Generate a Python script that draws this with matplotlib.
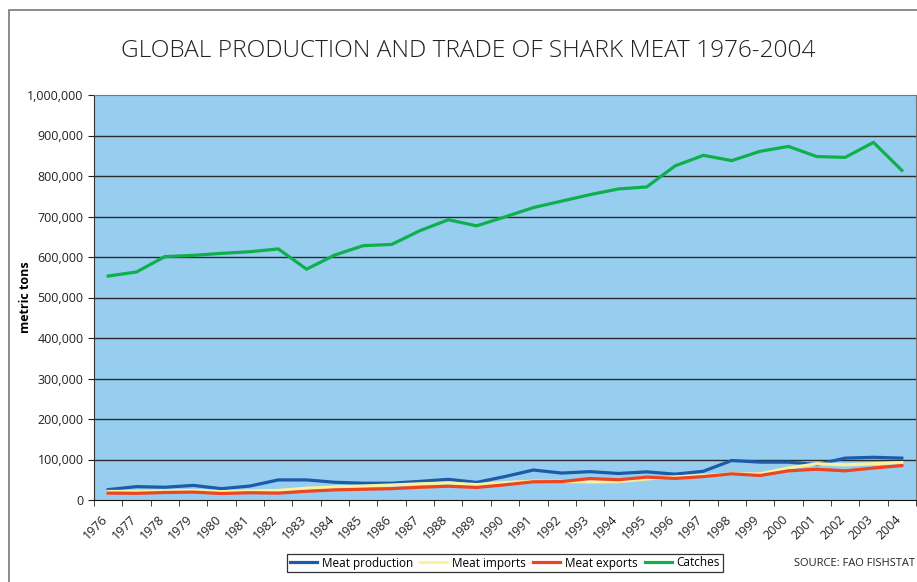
import matplotlib
matplotlib.use("Agg")
import matplotlib.pyplot as plt
import matplotlib.patches as patches
from matplotlib.ticker import FuncFormatter, FixedLocator
from matplotlib.transforms import ScaledTranslation

# values (metric tons)
years = list(range(1976, 2005))
meat_production = [25600, 33000, 31500, 36000, 28000, 34500, 49600, 49600, 43800, 41400,
                   41500, 46000, 51000, 43500, 58000, 74000, 66500, 70000, 65500, 69500,
                   63800, 71000, 97500, 93500, 93500, 87600, 103400, 105500, 103400]
meat_imports = [21000, 21500, 22300, 23500, 20500, 22500, 23500, 29000, 32000, 34500,
                37000, 40000, 42000, 38000, 43000, 46500, 46000, 44500, 45500, 52000,
                57000, 60500, 64500, 64500, 79000, 89500, 87000, 89500, 92500]
meat_exports = [17000, 16500, 18500, 19500, 16000, 18000, 17000, 21500, 25000, 26500,
                28000, 31500, 34000, 31000, 37500, 45000, 45500, 53000, 50000, 56500,
                53300, 57800, 64500, 60500, 72000, 76000, 72000, 79000, 85000]
catches = [553000, 563000, 601000, 604000, 609000, 613000, 620000, 570000, 605000, 628000,
           631000, 665000, 692000, 677000, 699000, 722000, 738000, 754000, 768000, 773000,
           825000, 851000, 838000, 861000, 873000, 848000, 846000, 883000, 814000]

series = [("Meat production", meat_production, "#1A5BAA"),
          ("Meat imports", meat_imports, "#FAF29C"),
          ("Meat exports", meat_exports, "#EE4422"),
          ("Catches", catches, "#0DB14B")]

plt.rcParams['font.family'] = ['Open Sans', 'DejaVu Sans']

fig = plt.figure(figsize=(9.17, 5.82), dpi=100)
ax = fig.add_axes([94 / 917, 1 - 500 / 582, 822 / 917, 405 / 582])
ax.set_facecolor("#97CDEF")

x = list(range(len(years)))
for name, vals, col in series:
    ax.plot(x, vals, color=col, lw=2.3, label=name, solid_joinstyle='miter')

ax.set_xlim(-0.5, len(years) - 0.5)
ax.set_ylim(0, 1000000)
ax.set_yticks(range(0, 1000001, 100000))
ax.yaxis.set_major_formatter(FuncFormatter(lambda v, p: "{:,.0f}".format(v)))
for yv in range(100000, 1000000, 100000):
    ax.axhline(yv, color="#2a2a2a", lw=1.0, zorder=1)

ax.set_xticks(x)
ax.set_xticklabels([str(y) for y in years], rotation=45, ha='right', va='top',
                   rotation_mode='anchor')
ax.xaxis.set_minor_locator(FixedLocator([i - 0.5 for i in range(len(years) + 1)]))
ax.tick_params(axis='x', which='major', length=0, pad=9, labelsize=9, colors='#222222')
ax.tick_params(axis='x', which='minor', length=4, color='#222222')
ax.tick_params(axis='y', length=4, labelsize=9, colors='#222222')
off = ScaledTranslation(-7 / 100, 0, fig.dpi_scale_trans)
for lab in ax.get_xticklabels():
    lab.set_transform(lab.get_transform() + off)

for side in ['top', 'right']:
    ax.spines[side].set_color('#777777')
ax.spines['left'].set_color('#333333')
ax.spines['bottom'].set_color('#111111')

ax.set_ylabel("metric tons", fontsize=9, fontweight='bold')
ax.yaxis.set_label_coords((32 - 94) / 822, 0.5)

fig.text(0.511, 1 - 51 / 582, "GLOBAL PRODUCTION AND TRADE OF SHARK MEAT 1976-2004",
         ha='center', va='center', fontsize=17.6, fontweight='light', color='#222222')

leg = fig.legend(loc='center', bbox_to_anchor=(505 / 917, 1 - 563 / 582), ncol=4,
                 frameon=True, fancybox=False, fontsize=8.5, handlelength=2.3,
                 handletextpad=0.4, columnspacing=0.6, borderpad=0.25)
leg.get_frame().set_edgecolor('black')
leg.get_frame().set_linewidth(0.9)

fig.text(915 / 917, 1 - 563 / 582, "SOURCE: FAO FISHSTAT", ha='right', va='center',
         fontsize=8, color='#222222')

frame = patches.Rectangle((9 / 917, -0.1), 1.2, 1 - 10 / 582 + 0.1,
                          transform=fig.transFigure, fill=False, edgecolor='#777777', lw=1.2)
fig.patches.append(frame)

fig.savefig("out.png", dpi=100)
